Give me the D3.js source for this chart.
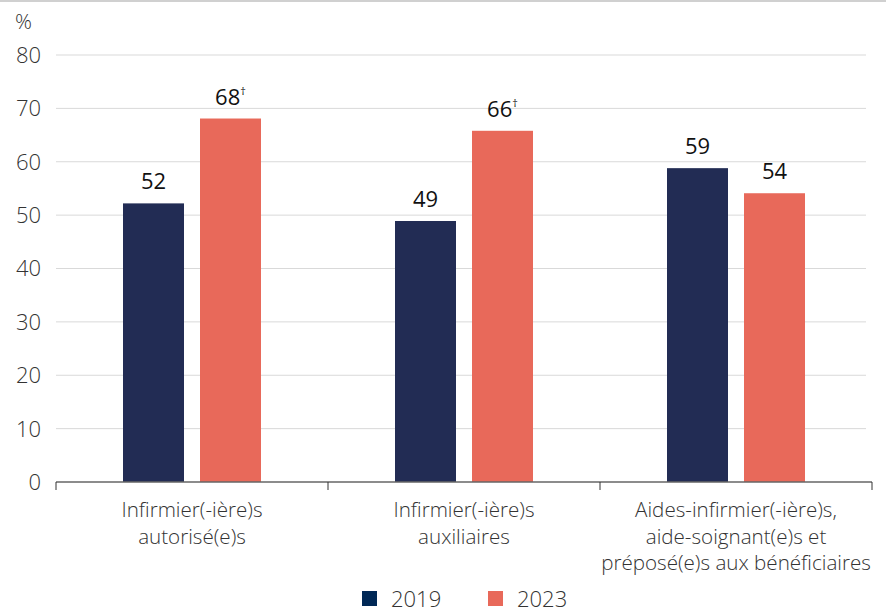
<!DOCTYPE html>
<html>
<head>
<meta charset="utf-8">
<script src="https://cdn.jsdelivr.net/npm/d3@7"></script>
<style>
  body { margin: 0; background: #fff; font-family: "Open Sans", sans-serif; }
  svg text { font-family: "Open Sans", sans-serif; font-weight: 300; }
</style>
</head>
<body>
<div id="chart"></div>
<script>
// DATA ------------------------------
const categories = [
  ["Infirmier(-ière)s", "autorisé(e)s"],
  ["Infirmier(-ière)s", "auxiliaires"],
  ["Aides-infirmier(-ière)s,", "aide-soignant(e)s et", "préposé(e)s aux bénéficiaires"]
];
const series = ["2019", "2023"];
const values2019 = [52.2, 48.9, 58.8];
const values2023 = [68.1, 65.8, 54.1];
const labels2019 = ["52", "49", "59"];
const labels2023 = ["68†", "66†", "54"];
const yTicks = [0, 10, 20, 30, 40, 50, 60, 70, 80];
const colors = ["#222c54", "#e8695a"];

// CHART INIT ------------------------------
const W = 886, H = 611;
const margin = ({top: 55, right: 14, bottom: 129, left: 56});
const width = W - margin.left - margin.right;
const height = H - margin.top - margin.bottom;

const root = d3.select('#chart').append('svg')
  .attr('width', W)
  .attr('height', H);

root.append("rect").attr("x", 0).attr("y", 0).attr("width", W).attr("height", 2).attr("fill", "#d0d0d0");

const svg = root.append('g')
  .attr("transform", "translate(" + margin.left + "," + margin.top + ")");

const rows = categories.map((c, i) => ({
  key: i,
  lines: c,
  vals: [values2019[i], values2023[i]],
  labs: [labels2019[i], labels2023[i]]
}));

let xScale = d3.scaleBand()
  .domain(rows.map(d => d.key))
  .range([0, width])
  .paddingInner(0)
  .paddingOuter(0);

let xInner = d3.scaleBand()
  .domain(series)
  .range([xScale.bandwidth() / 2 - 69, xScale.bandwidth() / 2 + 69])
  .paddingInner(16 / 77)
  .paddingOuter(0);

let yScale = d3.scaleLinear().domain([0, 80]).range([height, 0]);

// grid
svg.append("g").selectAll("line")
  .data(yTicks.filter(t => t > 0))
  .enter().append("line")
  .attr("x1", 0).attr("x2", width - 6)
  .attr("y1", d => yScale(d)).attr("y2", d => yScale(d))
  .attr("stroke", "#d9d9d9").attr("stroke-width", 1);

// y labels
svg.append("g").selectAll("text")
  .data(yTicks)
  .enter().append("text")
  .attr("x", -15)
  .attr("y", d => yScale(d))
  .attr("dy", "0.36em")
  .attr("text-anchor", "end")
  .attr("font-size", 22)
  .attr("fill", "#333")
  .text(d => d);

svg.append("text")
  .attr("x", -41).attr("y", -26)
  .attr("font-size", 21).attr("fill", "#333")
  .text("%");

// bars
const groups = svg.selectAll(".grp")
  .data(rows)
  .enter().append("g")
  .attr("class", "grp")
  .attr("transform", d => "translate(" + xScale(d.key) + ",0)");

groups.selectAll("rect")
  .data(d => d.vals.map((v, j) => ({s: series[j], v: v, j: j})))
  .enter().append("rect")
  .attr("x", d => xInner(d.s))
  .attr("y", d => yScale(d.v))
  .attr("width", xInner.bandwidth())
  .attr("height", d => height - yScale(d.v))
  .attr("fill", d => colors[d.j]);

groups.selectAll("text.val")
  .data(d => d.labs.map((l, j) => ({s: series[j], v: d.vals[j], l: l})))
  .enter().append("text")
  .attr("class", "val")
  .attr("x", d => xInner(d.s) + xInner.bandwidth() / 2)
  .attr("y", d => yScale(d.v) - 14)
  .attr("text-anchor", "middle")
  .attr("font-size", 22)
  .attr("fill", "#111")
  .style("font-weight", 400)
  .each(function(d) {
    const t = d3.select(this);
    const base = d.l.replace("†", "");
    t.append("tspan").text(base);
    if (d.l.includes("†")) {
      t.append("tspan").attr("font-size", 11).attr("dy", "-0.85em").text("†");
    }
  });

// x axis
svg.append("line")
  .attr("x1", 0).attr("x2", width)
  .attr("y1", height).attr("y2", height)
  .attr("stroke", "#666").attr("stroke-width", 1.5);

svg.append("g").selectAll("line")
  .data(d3.range(rows.length + 1))
  .enter().append("line")
  .attr("x1", i => i * xScale.step()).attr("x2", i => i * xScale.step())
  .attr("y1", height).attr("y2", height + 8)
  .attr("stroke", "#333").attr("stroke-width", 1);

groups.each(function(d) {
  const t = d3.select(this).append("text")
    .attr("text-anchor", "middle")
    .attr("font-size", 20.6)
    .attr("fill", "#333")
    .attr("y", height + 35);
  d.lines.forEach((ln, k) => {
    t.append("tspan")
      .attr("x", xScale.bandwidth() / 2)
      .attr("dy", k === 0 ? 0 : 26.5)
      .text(ln);
  });
});

// legend
const legend = root.append("g").attr("transform", "translate(362,591)");
series.forEach((s, i) => {
  const g = legend.append("g").attr("transform", "translate(" + (i * 126) + ",0)");
  g.append("rect").attr("width", 15).attr("height", 15).attr("fill", i === 0 ? "#002856" : colors[1]);
  g.append("text").attr("x", 29).attr("y", 16).attr("font-size", 22).attr("fill", "#333").text(s);
});
</script>
</body>
</html>
